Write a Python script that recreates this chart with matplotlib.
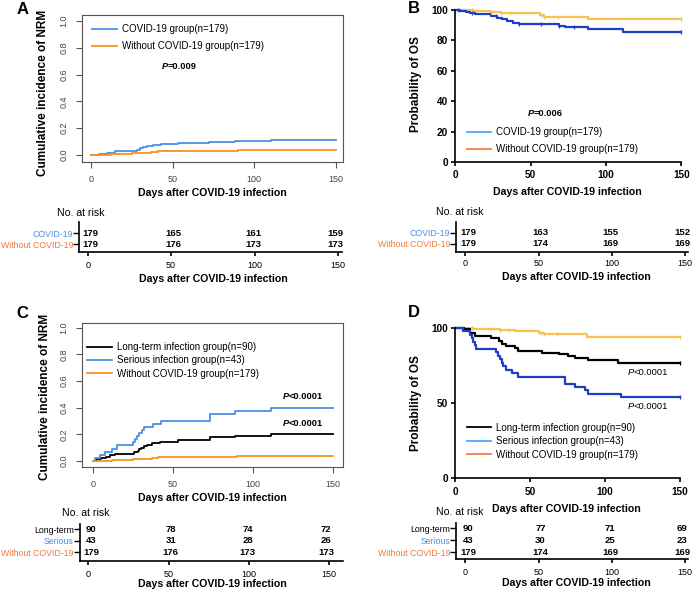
import numpy as np
import matplotlib
matplotlib.use('Agg')
import matplotlib.pyplot as plt
from matplotlib.lines import Line2D
from matplotlib.transforms import ScaledTranslation

plt.rcParams['font.family'] = ['Liberation Sans', 'DejaVu Sans']

# ---------------- data ----------------
risk_days = [0, 50, 100, 150]

# Panel A: cumulative incidence of NRM
A_covid_t = [0, 5, 9.6, 14.7, 23, 28, 30, 32, 34, 38, 43, 53, 72, 88, 110, 150]
A_covid_v = [0, 0.005, 0.012, 0.027, 0.032, 0.04, 0.05, 0.06, 0.07, 0.077, 0.082, 0.087, 0.097, 0.102, 0.114, 0.114]
A_wo_t = [0, 12, 25, 37, 41, 69, 90, 150]
A_wo_v = [0, 0.007, 0.012, 0.02, 0.027, 0.031, 0.035, 0.035]
A_risk_covid = [179, 165, 161, 159]
A_risk_wo = [179, 176, 173, 173]

# Panel B: overall survival (%)
B_covid_t = [0, 3, 7, 10, 13, 24, 28, 31, 34, 38, 42, 56, 69, 73, 88, 111, 150]
B_covid_v = [100, 99.4, 98.9, 98.3, 97.2, 96.1, 95.0, 93.9, 92.7, 91.6, 91.1, 90.5, 89.4, 88.8, 87.2, 85.5, 85.5]
B_wo_t = [0, 12, 24, 30, 40, 56, 59, 88, 150]
B_wo_v = [100, 99.4, 98.9, 98.3, 97.8, 96.7, 95.6, 94.1, 94.1]
B_covid_cens = [2, 11, 27, 42, 57, 69, 79, 150]
B_wo_cens = [11, 24, 30, 36, 57, 59, 68, 150]
B_risk_covid = [179, 163, 155, 152]
B_risk_wo = [179, 174, 169, 169]

# Panel C: cumulative incidence of NRM (events counted)
C_ser_t = [0, 1.5, 4.6, 7.7, 11.9, 15, 25, 26.4, 27.9, 29, 30.5, 32, 37.8, 42.4, 73.2, 89, 111, 150]
C_ser_events = [0, 1, 2, 3, 4, 5, 6, 7, 8, 9, 10, 11, 12, 13, 15, 16, 17, 17]
C_ser_n = 43
C_long_t = [0, 2, 5, 8, 11, 14, 26, 28, 29, 30, 32, 34, 37, 42, 53, 73, 89, 111, 150]
C_long_events = [0, 1, 2, 3, 4, 5, 6, 7, 8, 9, 10, 11, 12, 13, 14, 16, 17, 18, 18]
C_long_n = 90
C_risk_long = [90, 78, 74, 72]
C_risk_ser = [43, 31, 28, 26]
C_risk_wo = [179, 176, 173, 173]

# Panel D: overall survival (%)
D_long_t = [0, 6, 10, 13, 24, 29, 31, 34, 40, 42, 58, 69, 75, 80, 89, 109, 150]
D_long_v = [100, 98.9, 96.7, 94.4, 93.3, 91.1, 88.9, 87.8, 86.7, 84.4, 83.3, 82.2, 81.1, 80, 78.4, 76.7, 76.7]
D_ser_t = [0, 5, 10, 11, 12, 13, 14, 27, 28.5, 30, 31, 32, 34, 38, 42, 73, 80, 87, 89, 111, 150]
D_ser_alive = [43, 42, 41, 40, 39, 38, 37, 36, 35, 34, 33, 32, 31, 30, 29, 27, 26, 25, 24, 23, 23]
D_ser_n = 43
D_long_cens = [150]
D_ser_cens = [150]
D_risk_long = [90, 77, 71, 69]
D_risk_ser = [43, 30, 25, 23]
D_risk_wo = [179, 174, 169, 169]

# ---------------- styles ----------------
R_BLUE = '#4A90E2'
R_ORANGE = '#F7941D'
GP_YELLOW = '#F9C24E'
GP_BLUE = '#1F3EC6'
LEG_BLUE = '#4DA6FF'
LEG_ORANGE = '#F47B46'
TAB_BLUE = '#4A90E2'
TAB_ORANGE = '#F07838'
GREY = '#555555'
COL_SHIFT_PX = [3, 2, -1.5, -3]   # small horizontal nudges of the risk-table numbers

W, H = 696, 590
fig = plt.figure(figsize=(W / 100, H / 100), dpi=100)


def axes_px(l, t, r, b):
    return fig.add_axes([l / W, 1 - b / H, (r - l) / W, (b - t) / H])


def ftext(x, y, s, **kw):
    return fig.text(x / W, 1 - y / H, s, **kw)


def step_val(t, v, x):
    t = np.asarray(t); v = np.asarray(v)
    idx = np.searchsorted(t, x, side='right') - 1
    return v[np.clip(idx, 0, len(v) - 1)]


def ptext(xr, y, rest, bold=True, size=6.7):
    w = 'bold' if bold else 'normal'
    ftext(xr, y, 'P', ha='right', va='center', fontsize=size, fontweight=w, style='italic')
    ftext(xr, y, rest, ha='left', va='center', fontsize=size, fontweight=w)


def r_axes(ax, xlim, ylim):
    ax.set_xlim(xlim); ax.set_ylim(ylim)
    for s in ax.spines.values():
        s.set_color(GREY); s.set_linewidth(0.8)
    ax.set_xticks(risk_days)
    yt = [0, 0.2, 0.4, 0.6, 0.8, 1.0]
    ax.set_yticks(yt)
    ax.set_yticklabels(['%.1f' % v for v in yt], rotation=90, va='center')
    ax.tick_params(direction='out', length=4.5, width=0.8, color=GREY,
                   labelsize=6.5, labelcolor='#444444', pad=5)


def gp_axes(ax, ylim_top, yticks, xpad, ypad):
    ax.set_xlim(0, 150); ax.set_ylim(0, ylim_top)
    ax.spines['top'].set_visible(False); ax.spines['right'].set_visible(False)
    for s in ['left', 'bottom']:
        ax.spines[s].set_linewidth(1.2)
    ax.set_xticks(risk_days); ax.set_yticks(yticks)
    ax.tick_params(direction='out', length=3, width=1.2, labelsize=7.2)
    ax.tick_params(axis='x', pad=xpad)
    ax.tick_params(axis='y', pad=ypad)
    for lab in ax.get_xticklabels() + ax.get_yticklabels():
        lab.set_fontweight('bold')


def risk_table(box, xlim, ylim, rows, labels, colors, pad_x):
    ax = axes_px(*box)
    ax.set_xlim(xlim); ax.set_ylim(ylim)
    ax.patch.set_visible(False)
    ax.spines['top'].set_visible(False); ax.spines['right'].set_visible(False)
    for s in ['left', 'bottom']:
        ax.spines[s].set_linewidth(1.2)
    npos = len(rows)
    ypos = list(range(npos, 0, -1))
    ax.set_xticks(risk_days)
    ax.set_yticks(ypos)
    ax.set_yticklabels(labels)
    for lab, c in zip(ax.get_yticklabels(), colors):
        lab.set_color(c)
    ax.tick_params(axis='y', direction='out', length=4, width=1.0, labelsize=6.3, pad=0.5)
    ax.tick_params(axis='x', direction='out', length=3, width=1.2, labelsize=6.5, pad=pad_x)
    for y, vals in zip(ypos, rows):
        for d, n, sh in zip(risk_days, vals, COL_SHIFT_PX):
            tr = ax.transData + ScaledTranslation(sh / 100, 0, fig.dpi_scale_trans)
            ax.text(d, y, str(n), ha='center', va='center', fontsize=6.8,
                    fontweight='bold', transform=tr)
    return ax


def legend(ax, handles, labels, x, y, hl, ls):
    ax.legend(handles, labels, loc='center left', bbox_to_anchor=(x / W, 1 - y / H),
              bbox_transform=fig.transFigure, frameon=False, fontsize=7,
              handlelength=hl, handletextpad=0.5, labelspacing=ls,
              borderpad=0, borderaxespad=0)


# ================= Panel A =================
axA = axes_px(81.7, 15, 343.3, 162)
r_axes(axA, (-5.69, 154.5), (-0.052, 1.045))
axA.plot(A_covid_t, A_covid_v, drawstyle='steps-post', color=R_BLUE, lw=1.3)
axA.plot(A_wo_t, A_wo_v, drawstyle='steps-post', color=R_ORANGE, lw=1.3)
legend(axA, [Line2D([], [], color=R_BLUE, lw=1.3), Line2D([], [], color=R_ORANGE, lw=1.3)],
       ['COVID-19 group(n=179)', 'Without COVID-19 group(n=179)'], 91.7, 37.5, 2.57, 0.73)
ptext(168, 66.7, '=0.009')
ftext(43, 93, 'Cumulative incidence of NRM', rotation=90, ha='center', va='center',
      fontsize=8.5, fontweight='bold')
ftext(212.5, 193, 'Days after COVID-19 infection', ha='center', va='center',
      fontsize=7.6, fontweight='bold')
ftext(23, 9, 'A', ha='center', va='center', fontsize=12, fontweight='bold')

risk_table((79.3, 221.7, 341.7, 252.3), (-5.0, 152.2), (0.245, 3.03),
           [A_risk_covid, A_risk_wo], ['COVID-19', 'Without COVID-19'],
           [TAB_BLUE, TAB_ORANGE], 3.2)
ftext(57, 213.3, 'No. at risk', ha='left', va='center', fontsize=7.6)
ftext(213.5, 279, 'Days after COVID-19 infection', ha='center', va='center',
      fontsize=7.6, fontweight='bold')

# ================= Panel B =================
axB = axes_px(455.3, 10, 681.3, 162)
gp_axes(axB, 100, [0, 20, 40, 60, 80, 100], 2.4, 2)
axB.plot(B_wo_t, B_wo_v, drawstyle='steps-post', color=GP_YELLOW, lw=1.6, clip_on=False)
axB.plot(B_covid_t, B_covid_v, drawstyle='steps-post', color=GP_BLUE, lw=1.6, clip_on=False)
axB.plot(B_wo_cens, step_val(B_wo_t, B_wo_v, B_wo_cens), ls='none', marker='|',
         ms=3.5, mew=0.9, color=GP_YELLOW, clip_on=False)
axB.plot(B_covid_cens, step_val(B_covid_t, B_covid_v, B_covid_cens), ls='none', marker='|',
         ms=3.5, mew=0.9, color=GP_BLUE, clip_on=False)
legend(axB, [Line2D([], [], color=LEG_BLUE, lw=1.3), Line2D([], [], color=LEG_ORANGE, lw=1.3)],
       ['COVID-19 group(n=179)', 'Without COVID-19 group(n=179)'], 467.3, 140.8, 2.47, 0.73)
ptext(534, 113.3, '=0.006')
ftext(416, 84, 'Probability of OS', rotation=90, ha='center', va='center',
      fontsize=8.5, fontweight='bold')
ftext(567.7, 192, 'Days after COVID-19 infection', ha='center', va='center',
      fontsize=7.6, fontweight='bold')
ftext(414, 8.5, 'B', ha='center', va='center', fontsize=12, fontweight='bold')

risk_table((456.3, 221.7, 688, 251.7), (-6.1, 152), (0.245, 3.03),
           [B_risk_covid, B_risk_wo], ['COVID-19', 'Without COVID-19'],
           [TAB_BLUE, TAB_ORANGE], 2.5)
ftext(436, 211.7, 'No. at risk', ha='left', va='center', fontsize=7.6)
ftext(576.3, 277.3, 'Days after COVID-19 infection', ha='center', va='center',
      fontsize=7.6, fontweight='bold')

# ================= Panel C =================
axC = axes_px(81.7, 323.3, 342.7, 466.7)
r_axes(axC, (-6.86, 155.9), (-0.043, 1.033))
axC.plot(C_long_t, np.array(C_long_events) / C_long_n, drawstyle='steps-post', color='black', lw=1.3)
axC.plot(C_ser_t, np.array(C_ser_events) / C_ser_n, drawstyle='steps-post', color=R_BLUE, lw=1.3)
axC.plot(A_wo_t, A_wo_v, drawstyle='steps-post', color=R_ORANGE, lw=1.3)
legend(axC, [Line2D([], [], color='black', lw=1.3), Line2D([], [], color=R_BLUE, lw=1.3),
             Line2D([], [], color=R_ORANGE, lw=1.3)],
       ['Long-term infection group(n=90)', 'Serious infection group(n=43)',
        'Without COVID-19 group(n=179)'], 86.7, 360.5, 2.57, 0.34)
ptext(289, 396.7, '<0.0001')
ptext(289, 423.3, '<0.0001')
ftext(45, 397, 'Cumulative incidence of NRM', rotation=90, ha='center', va='center',
      fontsize=8.5, fontweight='bold')
ftext(212.5, 498, 'Days after COVID-19 infection', ha='center', va='center',
      fontsize=7.6, fontweight='bold')
ftext(22.5, 313, 'C', ha='center', va='center', fontsize=12, fontweight='bold')

risk_table((80, 524.3, 343.3, 560.7), (-5.2, 158.7), (0.287, 3.45),
           [C_risk_long, C_risk_ser, C_risk_wo], ['Long-term', 'Serious', 'Without COVID-19'],
           ['black', TAB_BLUE, TAB_ORANGE], 3.5)
ftext(62, 513, 'No. at risk', ha='left', va='center', fontsize=7.6)
ftext(212, 584, 'Days after COVID-19 infection', ha='center', va='center',
      fontsize=7.6, fontweight='bold')

# ================= Panel D =================
axD = axes_px(455.3, 327.7, 679.7, 477.7)
gp_axes(axD, 100, [0, 50, 100], 4, 2)
axD.plot(B_wo_t, B_wo_v, drawstyle='steps-post', color=GP_YELLOW, lw=1.6, clip_on=False)
axD.plot(D_long_t, D_long_v, drawstyle='steps-post', color='black', lw=1.6, clip_on=False)
D_ser_v = np.array(D_ser_alive) / D_ser_n * 100
axD.plot(D_ser_t, D_ser_v, drawstyle='steps-post', color=GP_BLUE, lw=1.6, clip_on=False)
axD.plot(B_wo_cens, step_val(B_wo_t, B_wo_v, B_wo_cens), ls='none', marker='|',
         ms=3.5, mew=0.9, color=GP_YELLOW, clip_on=False)
axD.plot(D_long_cens, step_val(D_long_t, D_long_v, D_long_cens), ls='none', marker='|',
         ms=3.5, mew=0.9, color='black', clip_on=False)
axD.plot(D_ser_cens, step_val(D_ser_t, D_ser_v, D_ser_cens), ls='none', marker='|',
         ms=3.5, mew=0.9, color=GP_BLUE, clip_on=False)
legend(axD, [Line2D([], [], color='black', lw=1.3), Line2D([], [], color=LEG_BLUE, lw=1.3),
             Line2D([], [], color=LEG_ORANGE, lw=1.3)],
       ['Long-term infection group(n=90)', 'Serious infection group(n=43)',
        'Without COVID-19 group(n=179)'], 467.3, 441.3, 2.47, 0.36)
ptext(633.5, 372.3, '<0.0001', bold=False)
ptext(633.5, 406.7, '<0.0001', bold=False)
ftext(416, 403.5, 'Probability of OS', rotation=90, ha='center', va='center',
      fontsize=8.5, fontweight='bold')
ftext(566.8, 509, 'Days after COVID-19 infection', ha='center', va='center',
      fontsize=7.6, fontweight='bold')
ftext(414, 312.5, 'D', ha='center', va='center', fontsize=12, fontweight='bold')

risk_table((456.3, 523.3, 688, 559), (-6.1, 152), (0.44, 3.42),
           [D_risk_long, D_risk_ser, D_risk_wo], ['Long-term', 'Serious', 'Without COVID-19'],
           ['black', TAB_BLUE, TAB_ORANGE], 3.5)
ftext(436, 511.7, 'No. at risk', ha='left', va='center', fontsize=7.6)
ftext(576.7, 583.3, 'Days after COVID-19 infection', ha='center', va='center',
      fontsize=7.6, fontweight='bold')

fig.savefig('out.png', dpi=100)
